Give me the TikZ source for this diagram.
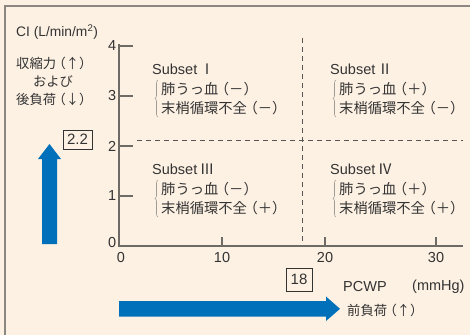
\documentclass[tikz,border=0pt]{standalone}
\usepackage{fontspec}
\setmainfont{Liberation Sans}
\newfontfamily\jp{Noto Sans CJK JP}
\usetikzlibrary{decorations.pathreplacing}
\definecolor{bgc}{HTML}{FDF1E3}
\definecolor{framec}{HTML}{8C8782}
\definecolor{axisc}{HTML}{6E6A66}
\definecolor{txtc}{HTML}{333333}
\definecolor{bluec}{HTML}{0070BA}
\definecolor{bracec}{HTML}{A09B96}
\newcommand{\paren}[1]{\hspace{-3.5pt}（#1）\hspace{-3.5pt}}
\tikzset{
  lat/.style={text=txtc, font=\fontsize{14.5}{16}\selectfont, inner sep=0pt},
  jpl/.style={text=txtc, font=\jp\fontsize{13.3}{15}\selectfont, inner sep=0pt},
  jps/.style={text=txtc, font=\jp\fontsize{14.3}{16}\selectfont, inner sep=0pt},
  sub/.style={text=txtc, font=\fontsize{14.5}{16}\selectfont, inner sep=0pt, anchor=west},
  axisline/.style={draw=axisc, line width=1.4pt},
  dashline/.style={draw=axisc!80!black, line width=0.9pt, dash pattern=on 5pt off 4pt},
  valbox/.style={draw=txtc, line width=0.8pt, text=txtc, font=\fontsize{15}{16}\selectfont, inner sep=0pt},
  brc/.style={draw=bracec, line width=0.6pt, decorate, decoration={brace, amplitude=3pt}},
}
\begin{document}
\begin{tikzpicture}[x=1pt,y=-1pt]
\useasboundingbox (0,0) rectangle (470,335);
\fill[bgc] (0,0) rectangle (470,335);
\draw[framec, line width=2pt] (4.5,335) -- (4.5,5.5) -- (470,5.5);

% axes
\coordinate (O) at (119,246);
\coordinate (ytop) at (119,44);
\coordinate (xend) at (463,246);
\draw[axisline] (ytop) -- (O) -- (xend);
% y ticks
\foreach \v/\yy in {1/196,2/146,3/96,4/46}{
  \draw[axisline] (119,\yy) -- (133,\yy);
  \node[lat, anchor=east] (yl\v) at (116.5,\yy) {\v};
}
\node[lat, anchor=east] (yl0) at (116.5,243) {0};
% x ticks
\foreach \v/\xx in {10/222,20/325,30/436}{
  \draw[axisline] (\xx,246) -- (\xx,237);
  \node[lat] (xl\v) at (\xx,258) {\v};
}
\node[lat] (xl0) at (121,258) {0};

% dashed lines
\coordinate (hd1) at (137,140.5);
\coordinate (hd2) at (463,140.5);
\coordinate (vd1) at (302,38);
\coordinate (vd2) at (302,241);
\draw[dashline] (hd1) -- (hd2);
\draw[dashline] (vd1) -- (vd2);

% left labels
\node[lat, anchor=west, font=\fontsize{13.8}{16}\selectfont] (ci) at (16,32) {CI (L/min/m\textsuperscript{2})};
\node[jpl, anchor=west] (contr) at (16,63) {収縮力\paren{↑}};
\node[jpl] (and) at (53,81) {および};
\node[jpl, anchor=west] (after) at (16,99) {後負荷\paren{↓}};
\node[valbox, minimum width=29pt, minimum height=19pt] (b22) at (77.5,139.5) {2.2};

% bottom labels
\node[valbox, minimum width=26pt, minimum height=23pt] (b18) at (299,279.5) {18};
\node[lat, anchor=west] (pcwp) at (343,287) {PCWP};
\node[lat, anchor=west] (mmhg) at (412,287) {(mmHg)};
\node[jpl, anchor=west] (pre) at (347,310) {前負荷\paren{↑}};

% blue arrows
\fill[bluec] (42,244) -- (42,159) -- (38,159) -- (49.5,144) -- (61,159) -- (57,159) -- (57,244) -- cycle;
\fill[bluec] (119,301) -- (326,301) -- (326,296.5) -- (340,308.8) -- (326,321) -- (326,316.7) -- (119,316.7) -- cycle;

% subsets
\node[sub] (s1) at (152,69) {Subset\,{\jp Ⅰ}};
\node[jps, anchor=west] (s1a) at (161,89) {肺うっ血\paren{－}};
\node[jps, anchor=west] (s1b) at (161,108.5) {末梢循環不全\paren{－}};
\draw[brc] (158,117) -- (158,80);

\node[sub] (s2) at (330,69) {Subset\,{\jp Ⅱ}};
\node[jps, anchor=west] (s2a) at (339,89) {肺うっ血\paren{＋}};
\node[jps, anchor=west] (s2b) at (339,108.5) {末梢循環不全\paren{－}};
\draw[brc] (336,117) -- (336,80);

\node[sub] (s3) at (152,169) {Subset\,{\jp Ⅲ}};
\node[jps, anchor=west] (s3a) at (161,189) {肺うっ血\paren{－}};
\node[jps, anchor=west] (s3b) at (161,208.5) {末梢循環不全\paren{＋}};
\draw[brc] (158,217) -- (158,180);

\node[sub] (s4) at (330,169) {Subset\,{\jp Ⅳ}};
\node[jps, anchor=west] (s4a) at (339,189) {肺うっ血\paren{＋}};
\node[jps, anchor=west] (s4b) at (339,208.5) {末梢循環不全\paren{＋}};
\draw[brc] (336,217) -- (336,180);
\end{tikzpicture}
\end{document}
